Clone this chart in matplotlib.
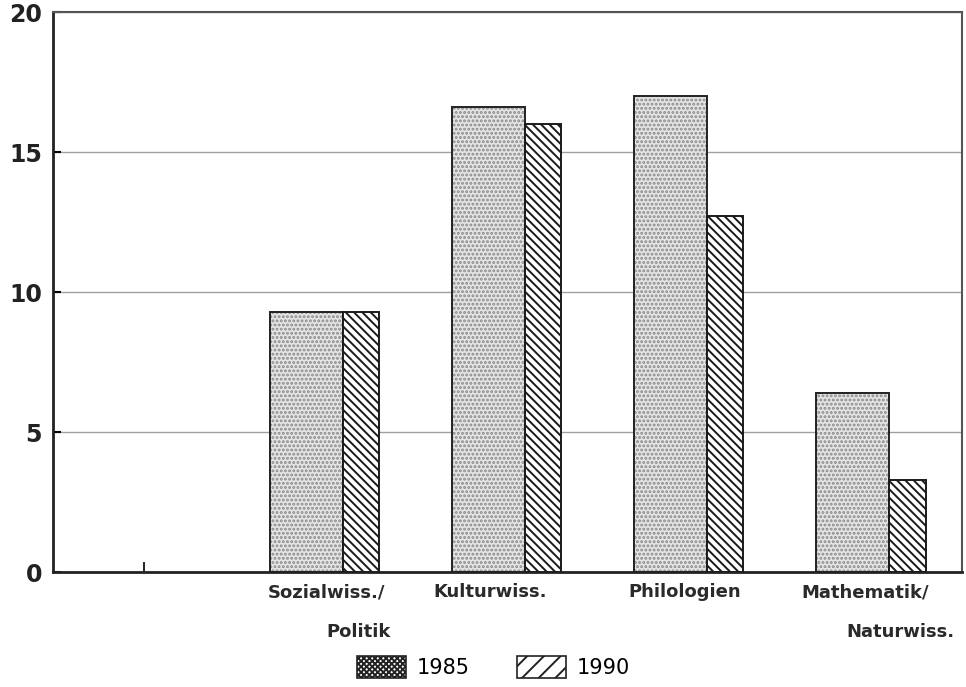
import matplotlib
matplotlib.use("Agg")
import matplotlib.pyplot as plt
from matplotlib.patches import Patch
import numpy as np

# Anteile je Fächergruppe (in %)
categories = ["", "Sozialwiss./\nPolitik", "Kulturwiss.", "Philologien", "Mathematik/\nNaturwiss."]
values_1985 = [np.nan, 9.3, 16.6, 17.0, 6.4]
values_1990 = [np.nan, 9.3, 16.0, 12.7, 3.3]
series_labels = ["1985", "1990"]
y_ticks = [0, 5, 10, 15, 20]

plt.rcParams["hatch.linewidth"] = 1.4

fig = plt.figure(figsize=(9.66, 6.87), dpi=100)
ax = fig.add_axes([53 / 966, 1 - 572 / 687, (962 - 53) / 966, (572 - 12) / 687])

x = np.arange(len(categories))

# light stippled bars (1985): textured fill, then black outline
ax.bar(x - 0.31, values_1985, width=0.4, align="edge", color="#e4e4e4",
       edgecolor="#8a8a8a", hatch="....", linewidth=0, zorder=2)
ax.bar(x - 0.31, values_1985, width=0.4, align="edge", fill=False,
       edgecolor="#222222", linewidth=1.4, zorder=3)
# dark hatched bars (1990)
ax.bar(x + 0.09, values_1990, width=0.2, align="edge", color="white",
       edgecolor="#1a1a1a", hatch="\\\\\\\\", linewidth=1.4, zorder=3)

ax.set_xlim(-0.5, 4.49)
ax.set_ylim(0, 20)
ax.set_yticks(y_ticks)
ax.set_xticks(x)
ax.set_xticklabels([])
ax.yaxis.grid(True, color="#a0a0a0", linewidth=1.0, zorder=0)
ax.set_axisbelow(True)

ax.tick_params(axis="y", direction="in", length=6, width=1.5, pad=8,
               labelsize=17, labelcolor="#222222")
ax.tick_params(axis="x", direction="in", length=7, width=1.2)
for lab in ax.get_yticklabels():
    lab.set_fontweight("bold")
    lab.set_family("DejaVu Sans")

for side in ("left", "bottom"):
    ax.spines[side].set_linewidth(2.0)
    ax.spines[side].set_color("#222222")
for side in ("top", "right"):
    ax.spines[side].set_linewidth(1.5)
    ax.spines[side].set_color("#555555")

# category labels below the axis
label_x = [[], [1.0, 1.18], [1.9], [2.97], [3.96, 4.15]]
label_y = [-0.036, -0.108]
trans = ax.get_xaxis_transform()
for name, xs in zip(categories, label_x):
    for line, xp, yp in zip(name.split("\n"), xs, label_y):
        ax.text(xp, yp, line, transform=trans, ha="center", va="center",
                fontsize=13, fontweight="bold", family="DejaVu Sans",
                color="#2a2a2a")

handles = [
    Patch(facecolor="white", edgecolor="#222222", hatch="xxxxxx", linewidth=1.2),
    Patch(facecolor="white", edgecolor="#222222", hatch="//", linewidth=1.2),
]
fig.legend(handles, series_labels, loc="center", bbox_to_anchor=(0.511, 0.029),
           ncol=2, frameon=False, handlelength=2.35,
           handleheight=1.2, handletextpad=0.5, columnspacing=2.3,
           prop={"family": "DejaVu Sans", "size": 15})

fig.savefig("out.png", dpi=100)
